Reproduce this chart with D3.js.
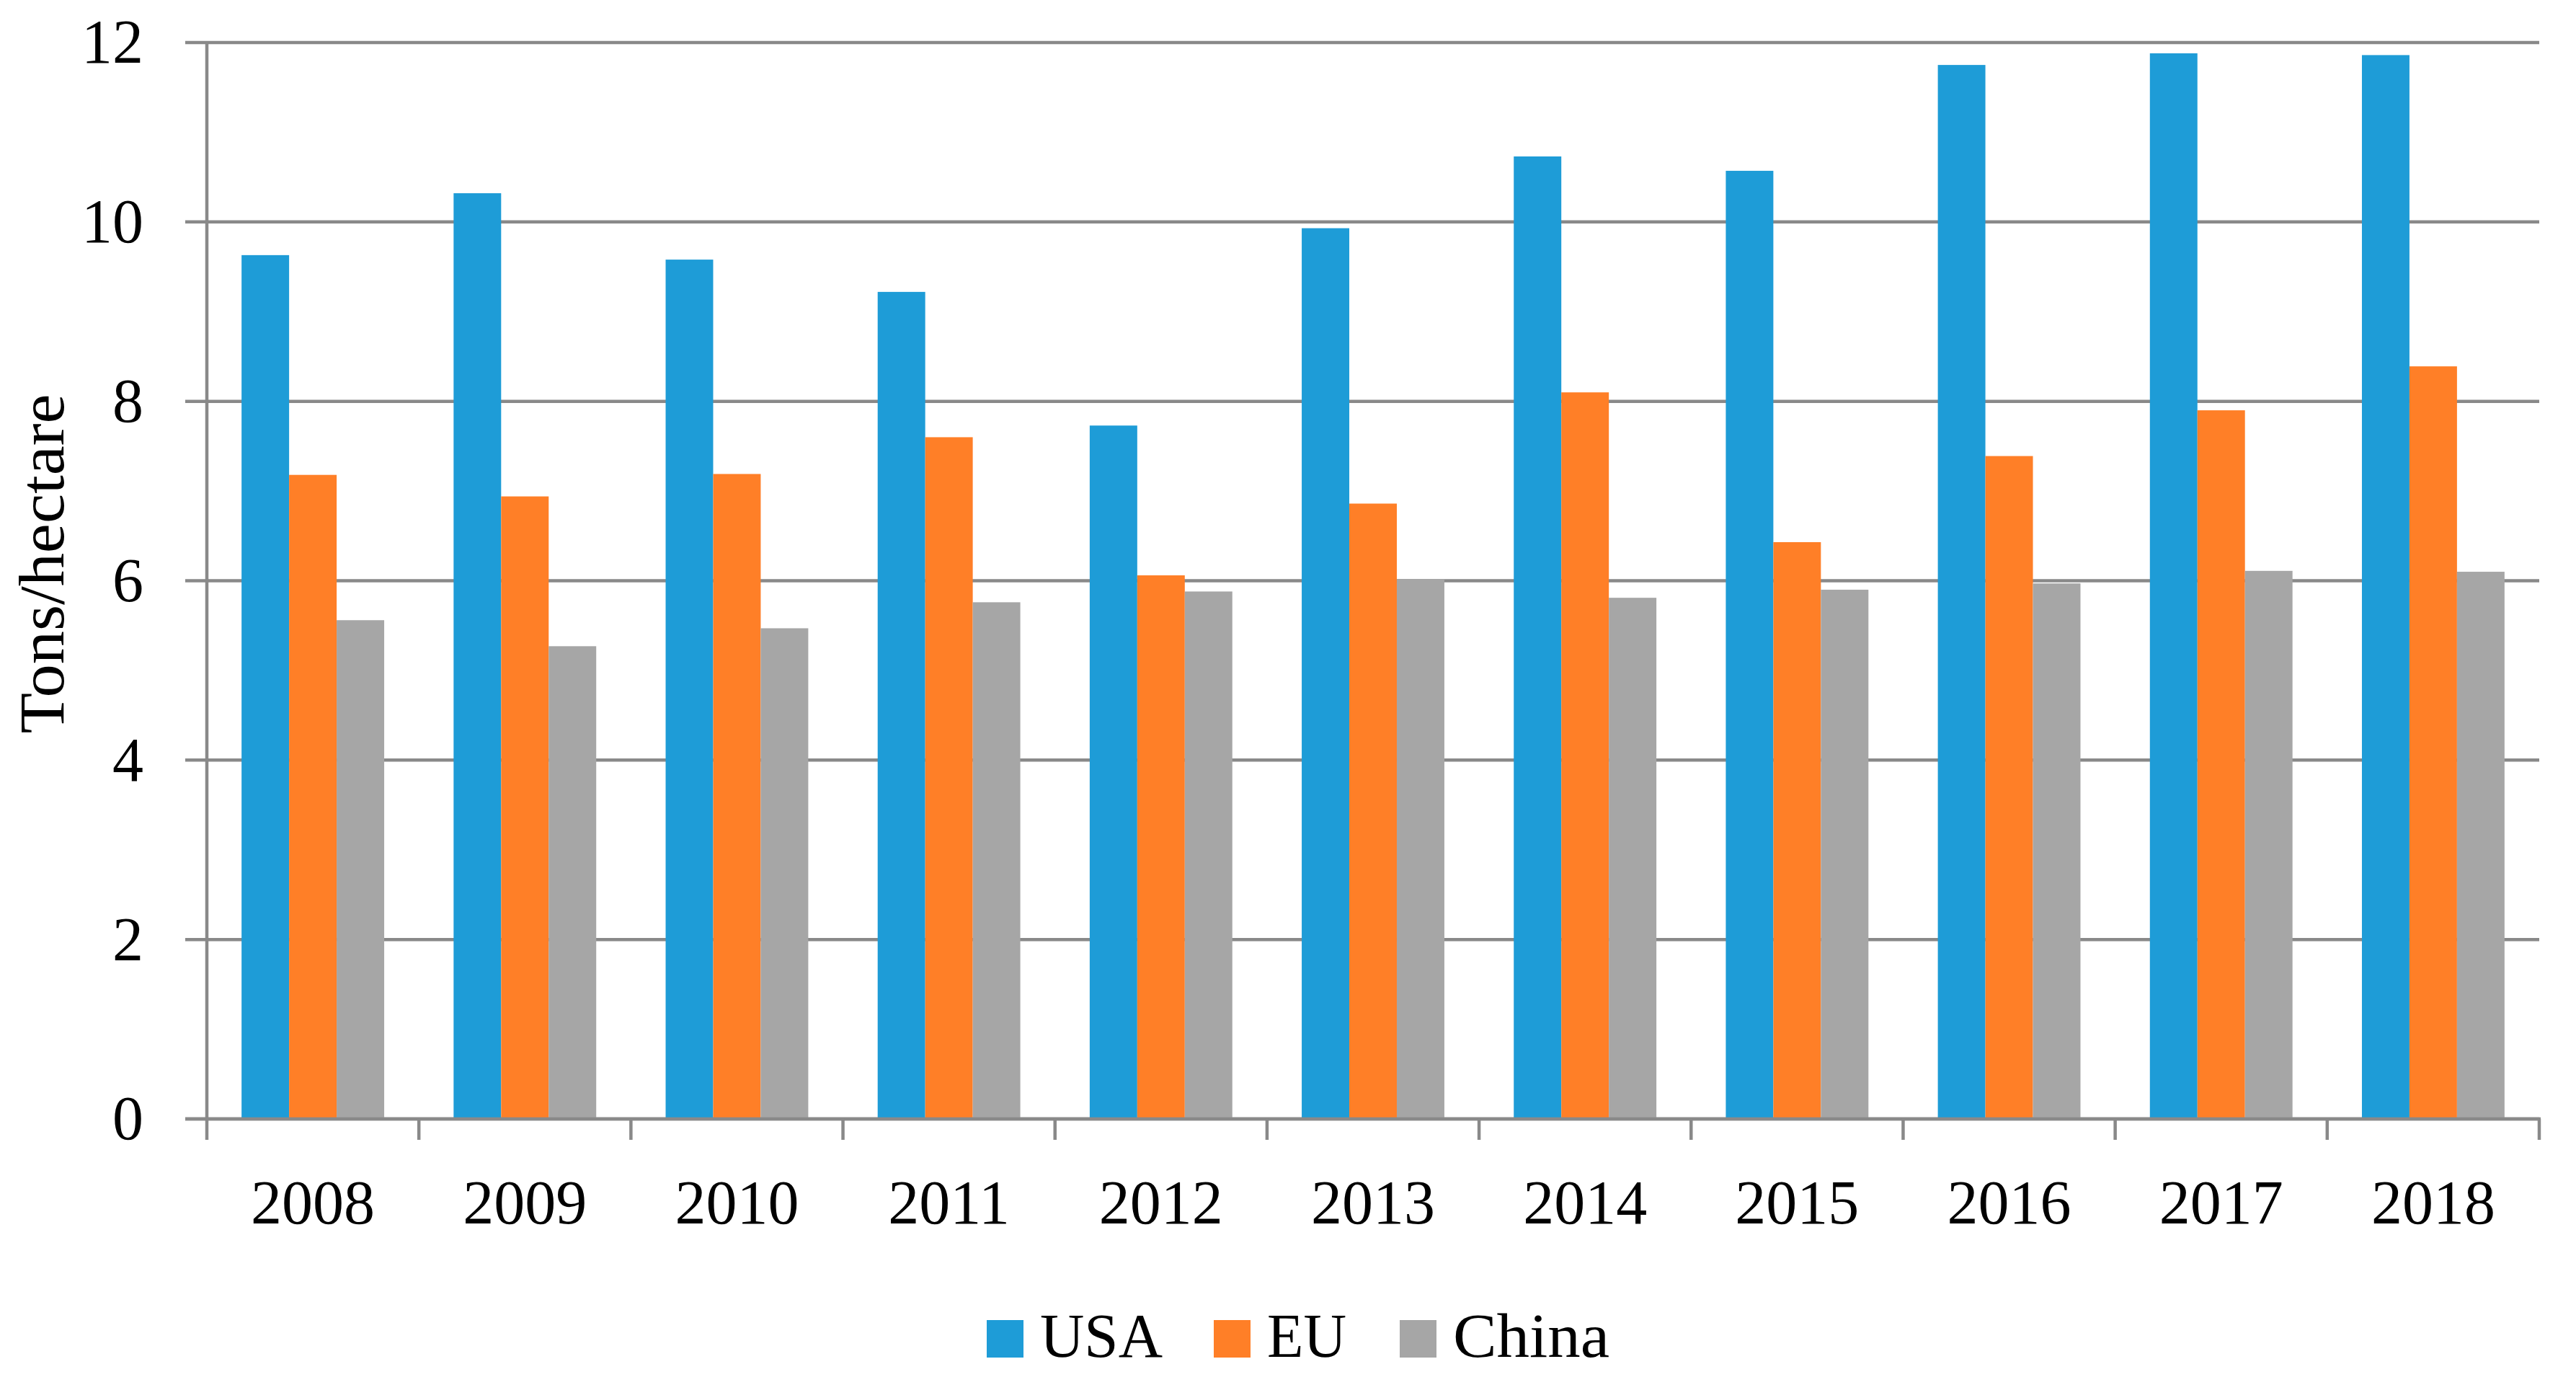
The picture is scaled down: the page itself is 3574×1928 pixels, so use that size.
<!DOCTYPE html>
<html>
<head>
<meta charset="utf-8">
<script src="https://cdn.jsdelivr.net/npm/d3@7"></script>
<style>
  body { margin: 0; background: #fff; }
  svg text { font-family: "Liberation Serif", "Times New Roman", serif; fill: #000; }
</style>
</head>
<body>
<svg id="chart" width="3574" height="1928"></svg>
<script>
// data
var years = ["2008", "2009", "2010", "2011", "2012", "2013", "2014", "2015", "2016", "2017", "2018"];
var seriesNames = ["USA", "EU", "China"];
var usaValues = [9.63, 10.32, 9.58, 9.22, 7.73, 9.93, 10.73, 10.57, 11.75, 11.88, 11.86];
var euValues = [7.18, 6.94, 7.19, 7.60, 6.06, 6.86, 8.10, 6.43, 7.39, 7.90, 8.39];
var chinaValues = [5.56, 5.27, 5.47, 5.76, 5.88, 6.02, 5.81, 5.90, 5.97, 6.11, 6.10];
var yTicks = [0, 2, 4, 6, 8, 10, 12];

var colors = { "USA": "#1e9cd7", "EU": "#ff7f27", "China": "#a6a6a6" };
var gridColor = "#898989";

var svg = d3.select("#chart");
var margin = { left: 287, right: 3523, top: 59, bottom: 1552 };

// rows for the grouped bars
var rows = years.map(function (y, i) {
  return { year: y, values: { "USA": usaValues[i], "EU": euValues[i], "China": chinaValues[i] } };
});

var x0 = d3.scaleBand().domain(years).range([margin.left, margin.right]).padding(0);
var x1 = d3.scaleBand().domain(seriesNames).range([0, x0.bandwidth()]).paddingInner(0).paddingOuter(0.73);
var y = d3.scaleLinear().domain([0, 12]).range([margin.bottom, margin.top]);

// gridlines (with the small left tick)
svg.append("g")
  .attr("class", "grid")
  .selectAll("line")
  .data(yTicks)
  .enter()
  .append("line")
  .attr("x1", margin.left - 30)
  .attr("x2", margin.right)
  .attr("y1", function (d) { return y(d); })
  .attr("y2", function (d) { return y(d); })
  .attr("stroke", gridColor)
  .attr("stroke-width", 4.5);

// y axis line
svg.append("line")
  .attr("x1", margin.left).attr("x2", margin.left)
  .attr("y1", y(12) - 2).attr("y2", y(0))
  .attr("stroke", gridColor)
  .attr("stroke-width", 4.5);

// y tick labels
svg.append("g")
  .selectAll("text")
  .data(yTicks)
  .enter()
  .append("text")
  .attr("x", 199)
  .attr("y", function (d) { return y(d); })
  .attr("dy", "0.33em")
  .attr("font-size", 86)
  .style("text-anchor", "end")
  .text(function (d) { return d; });

// bars
var groups = svg.append("g")
  .attr("class", "bars")
  .selectAll("g")
  .data(rows)
  .enter()
  .append("g")
  .attr("transform", function (d) { return "translate(" + x0(d.year) + ",0)"; });

groups.selectAll("rect")
  .data(function (d) { return seriesNames.map(function (s) { return { key: s, value: d.values[s] }; }); })
  .enter()
  .append("rect")
  .attr("x", function (d) { return x1(d.key); })
  .attr("width", x1.bandwidth())
  .attr("y", function (d) { return y(d.value); })
  .attr("height", function (d) { return y(0) - y(d.value); })
  .attr("fill", function (d) { return colors[d.key]; });

// x axis line + ticks at band boundaries
svg.append("line")
  .attr("x1", margin.left - 30).attr("x2", margin.right + 2)
  .attr("y1", y(0)).attr("y2", y(0))
  .attr("stroke", gridColor)
  .attr("stroke-width", 4.5);

var boundaries = years.map(function (d) { return x0(d); }).concat([margin.right]);
svg.append("g")
  .selectAll("line")
  .data(boundaries)
  .enter()
  .append("line")
  .attr("x1", function (d) { return d; })
  .attr("x2", function (d) { return d; })
  .attr("y1", y(0))
  .attr("y2", y(0) + 29)
  .attr("stroke", gridColor)
  .attr("stroke-width", 4.5);

// x tick labels
svg.append("g")
  .selectAll("text")
  .data(years)
  .enter()
  .append("text")
  .attr("x", function (d) { return x0(d) + x0.bandwidth() / 2; })
  .attr("y", 1697)
  .attr("font-size", 86)
  .style("text-anchor", "middle")
  .text(function (d) { return d; });

// y axis title
svg.append("text")
  .attr("transform", "translate(88,782) rotate(-90)")
  .attr("font-size", 88)
  .attr("textLength", 471)
  .attr("lengthAdjust", "spacingAndGlyphs")
  .style("text-anchor", "middle")
  .text("Tons/hectare");

// legend
var legendX = [1369, 1684, 1942];
var legendTextW = [170, 110, 217];
var legend = svg.append("g")
  .selectAll("g")
  .data(seriesNames)
  .enter()
  .append("g")
  .attr("transform", function (d, i) { return "translate(" + legendX[i] + ",0)"; });

legend.append("rect")
  .attr("x", 0)
  .attr("y", 1831)
  .attr("width", 51)
  .attr("height", 52)
  .attr("fill", function (d) { return colors[d]; });

legend.append("text")
  .attr("x", 74)
  .attr("y", 1882)
  .attr("font-size", 87)
  .attr("textLength", function (d, i) { return legendTextW[i]; })
  .attr("lengthAdjust", "spacingAndGlyphs")
  .text(function (d) { return d; });
</script>
</body>
</html>
